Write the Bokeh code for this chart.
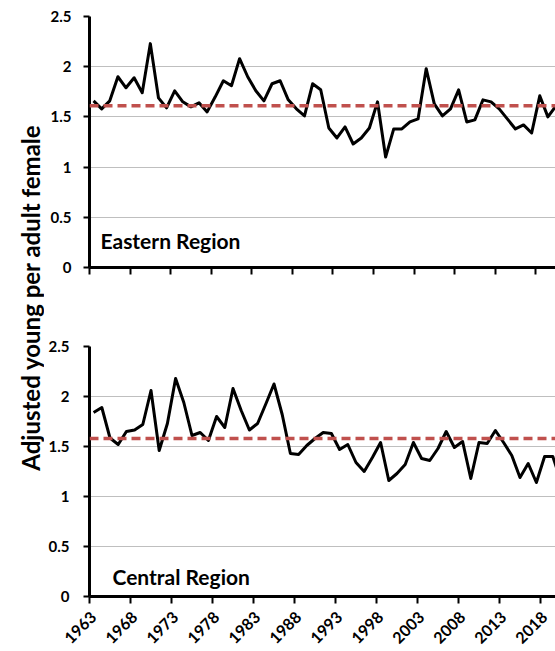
from math import pi
from bokeh.plotting import figure
from bokeh.models import (LinearAxis, FixedTicker, NumeralTickFormatter, Span,
                          Label, Range1d, CustomLabelingPolicy)
from bokeh.layouts import row, column
from bokeh.embed import file_html
from bokeh.resources import INLINE

# ---------------- data ----------------
years = list(range(1963, 2021))
eastern = [1.66, 1.58, 1.66, 1.90, 1.79, 1.89, 1.74, 2.23, 1.69, 1.59,
           1.76, 1.65, 1.60, 1.64, 1.55, 1.70, 1.86, 1.81, 2.08, 1.90,
           1.76, 1.66, 1.83, 1.86, 1.67, 1.58, 1.51, 1.83, 1.77, 1.39,
           1.29, 1.40, 1.23, 1.29, 1.39, 1.65, 1.10, 1.38, 1.38, 1.45,
           1.48, 1.98, 1.63, 1.51, 1.58, 1.77, 1.45, 1.47, 1.67, 1.65,
           1.58, 1.48, 1.38, 1.42, 1.34, 1.71, 1.50, 1.61]
central = [1.84, 1.89, 1.585, 1.52, 1.65, 1.665, 1.72, 2.06, 1.46, 1.73,
           2.18, 1.94, 1.61, 1.64, 1.56, 1.80, 1.69, 2.08, 1.86, 1.665,
           1.73, 1.925, 2.125, 1.82, 1.43, 1.42, 1.51, 1.58, 1.64, 1.63,
           1.47, 1.52, 1.34, 1.25, 1.39, 1.54, 1.16, 1.23, 1.32, 1.54,
           1.38, 1.36, 1.48, 1.65, 1.49, 1.55, 1.18, 1.54, 1.53, 1.66,
           1.54, 1.41, 1.19, 1.33, 1.14, 1.40, 1.40, 1.15]
eastern_mean = 1.61
central_mean = 1.58
y_ticks = [0, 0.5, 1, 1.5, 2, 2.5]
label_years = list(range(1963, 2019, 5))
tick_labels = [str(y) for y in label_years]
region_names = ["Eastern Region", "Central Region"]
y_title = "Adjusted young per adult female"

FONT = "Lato"
MEAN_COLOR = "#C0504D"
GRID_COLOR = "#BFBFBF"


def make_panel(values, mean, name, height, b_left, b_top, b_bottom, x_end,
               show_labels, name_x, name_y, y_standoff):
    p = figure(width=511, height=height,
               x_range=Range1d(1962.5, x_end), y_range=Range1d(0, 2.5),
               output_backend="svg", toolbar_location=None,
               x_axis_location=None, y_axis_location="left",
               min_border_left=b_left, min_border_right=0,
               min_border_top=b_top, min_border_bottom=b_bottom)
    p.outline_line_color = None
    p.background_fill_color = "white"
    p.border_fill_color = "white"

    ya = p.yaxis[0]
    ya.ticker = FixedTicker(ticks=y_ticks)
    ya.formatter = NumeralTickFormatter(format="0.[0]")
    ya.major_tick_out = 6
    ya.major_tick_in = 0
    ya.minor_tick_out = 0
    ya.minor_tick_in = 0
    ya.axis_line_width = 3
    ya.axis_line_color = "black"
    ya.major_tick_line_width = 2
    ya.major_tick_line_color = "black"
    ya.major_label_standoff = y_standoff
    ya.major_label_text_font = FONT
    ya.major_label_text_font_style = "bold"
    ya.major_label_text_font_size = "15px"
    ya.major_label_text_color = "black"

    p.xgrid.visible = False
    p.ygrid.ticker = FixedTicker(ticks=y_ticks)
    p.ygrid.grid_line_color = GRID_COLOR
    p.ygrid.grid_line_width = 1

    # tick marks sit on the category boundaries (Excel "between tick marks")
    tick_axis = LinearAxis(
        ticker=FixedTicker(ticks=[y - 0.5 for y in label_years]),
        major_label_policy=CustomLabelingPolicy(code="return []"),
        major_label_text_font_size="1px", major_label_standoff=0,
        major_tick_out=7, major_tick_in=0, minor_tick_out=0, minor_tick_in=0,
        axis_line_width=3, axis_line_color="black",
        major_tick_line_width=2, major_tick_line_color="black")
    p.add_layout(tick_axis, "below")

    if show_labels:
        # labels sit on the category centres
        lab_axis = LinearAxis(
            ticker=FixedTicker(ticks=label_years),
            major_label_overrides={y: s for y, s in zip(label_years, tick_labels)},
            major_label_orientation=pi / 4,
            major_tick_out=0, major_tick_in=0, minor_tick_out=0, minor_tick_in=0,
            axis_line_color=None, major_tick_line_color=None,
            major_label_standoff=7,
            major_label_text_font=FONT, major_label_text_font_style="bold",
            major_label_text_font_size="16px", major_label_text_color="black")
        p.add_layout(lab_axis, "below")

    p.line(years, values, line_color="black", line_width=3, line_join="round")
    p.add_layout(Span(location=mean, dimension="width", line_color=MEAN_COLOR,
                      line_width=3.5, line_dash="9 5"))
    p.add_layout(Label(x=name_x, y=name_y, text=name, text_font=FONT,
                       text_font_style="bold", text_font_size="21px",
                       text_color="black", text_baseline="alphabetic",
                       text_align="left"))
    return p


# page is drawn without a body margin: the layout spans the full 555 x 651
top = make_panel(eastern, eastern_mean, region_names[0], 300, 40, 16, 33,
                 2019.94, False, 1963.85, 0.27, 12)
bottom = make_panel(central, central_mean, region_names[1], 351, 45, 46, 55,
                    2019.33, True, 1965.3, 0.20, 14)

side = figure(width=44, height=651, x_range=Range1d(0, 44), y_range=Range1d(0, 651),
              output_backend="svg", toolbar_location=None,
              x_axis_location=None, y_axis_location=None, min_border=0)
side.outline_line_color = None
side.grid.visible = False
side.add_layout(Label(x=30, y=354, text=y_title, angle=pi / 2,
                      text_align="center", text_baseline="middle",
                      text_font=FONT, text_font_style="bold",
                      text_font_size="24px", text_color="black"))

layout = row(side, column(top, bottom))
open("out.html", "w").write(file_html(layout, INLINE))
